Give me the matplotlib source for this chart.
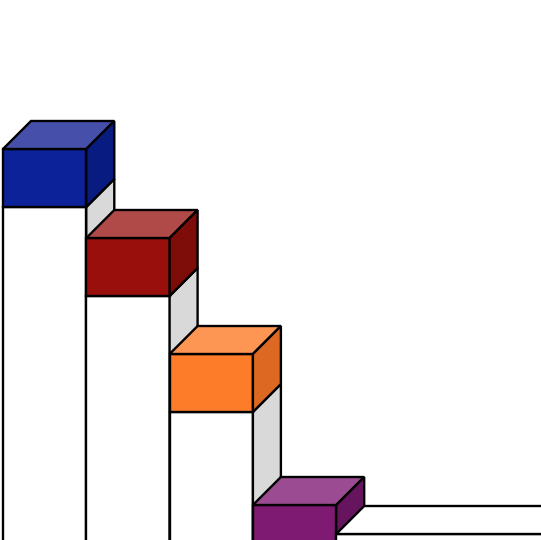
import matplotlib
matplotlib.use("Agg")
import matplotlib.pyplot as plt
from matplotlib.patches import Polygon

# ---- data ----
categories = ["A", "B", "C", "D", "E"]
values = [391, 302, 186, 35, 6]          # height of each column top (chart units)
front_colors = ["#0c2299", "#990f0b", "#fc7c29", "#7e1a72"]
top_colors = ["#4650aa", "#b04a48", "#fd9652", "#9b4b91"]
side_colors = ["#081b80", "#7e0c08", "#dc6822", "#67145e"]

# ---- layout ----
X0 = 3.0
STEP = 83.3
CUBE_H = 58.0
DEPTH = 28.0
BOTTOM = -40.0
LW = 1.7
GRAY = "#d9d9d9"

fig = plt.figure(figsize=(5.41, 5.40), dpi=100)
ax = fig.add_axes([0, 0, 1, 1])
ax.set_xlim(0, 541)
ax.set_ylim(0, 540)
ax.axis("off")


def poly(pts, fc, z):
    ax.add_patch(Polygon(pts, closed=True, facecolor=fc, edgecolor="black",
                         linewidth=LW, joinstyle="miter", zorder=z))


z = 1
for i, v in enumerate(values[:4]):
    x = X0 + i * STEP
    r = x + STEP
    cb = v - CUBE_H
    # pillar front + side
    poly([(x, BOTTOM), (x, cb), (r, cb), (r, BOTTOM)], "white", z)
    poly([(r, BOTTOM), (r, cb), (r + DEPTH, cb + DEPTH), (r + DEPTH, BOTTOM)], GRAY, z)
    # cube
    poly([(x, cb), (x, v), (r, v), (r, cb)], front_colors[i], z + 1)
    poly([(x, v), (x + DEPTH, v + DEPTH), (r + DEPTH, v + DEPTH), (r, v)], top_colors[i], z + 1)
    poly([(r, cb), (r, v), (r + DEPTH, v + DEPTH), (r + DEPTH, cb + DEPTH)], side_colors[i], z + 1)
    z += 2

# flat trailing base
v = values[4]
x = X0 + 4 * STEP
r = 800
poly([(x, BOTTOM), (x, v), (r, v), (r, BOTTOM)], "white", z)
poly([(x, v), (x + DEPTH, v + DEPTH), (r + DEPTH, v + DEPTH), (r, v)], "white", z)

fig.savefig("out.png", dpi=100)
